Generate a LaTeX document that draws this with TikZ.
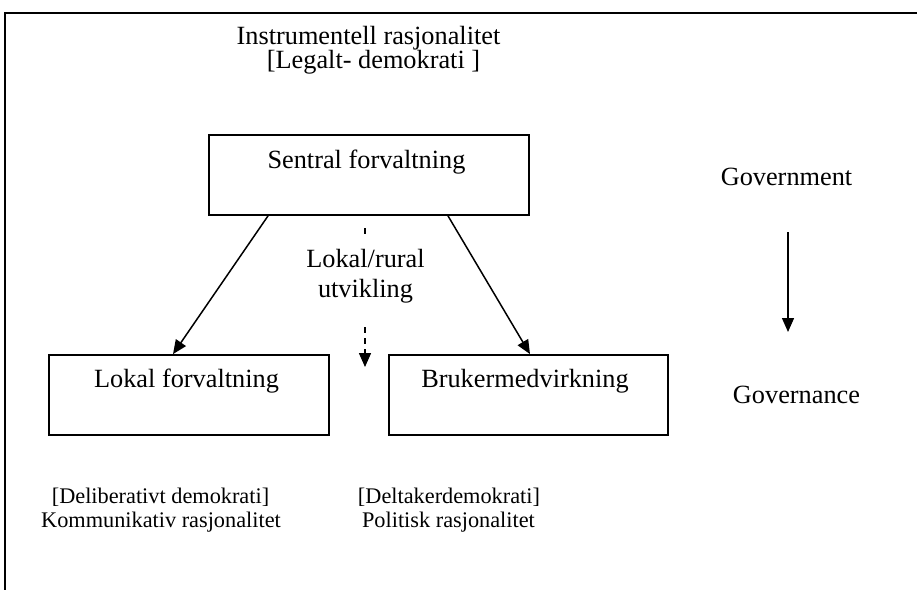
\documentclass[tikz,border=0pt]{standalone}
\usepackage{fontspec}
\setmainfont{Liberation Serif}
\usetikzlibrary{arrows.meta}
\tikzset{
  boxnode/.style={draw, line width=1.8pt, minimum width=#1, minimum height=80pt, inner sep=0pt},
  bigtxt/.style={anchor=base, inner sep=0pt, font=\fontsize{26.3}{30}\selectfont},
  smalltxt/.style={anchor=base, inner sep=0pt, font=\fontsize{22.3}{26}\selectfont},
  arr/.style={line width=1.5pt, -{Triangle[length=14pt,width=12pt]}},
  dasharr/.style={line width=1.5pt, dash pattern=on 6pt off 5pt, -{Triangle[length=14pt,width=12pt]}},
  frame/.style={line width=2pt}
}
\begin{document}
\begin{tikzpicture}[x=1pt,y=-1pt]
\useasboundingbox (0,0) rectangle (917,590);
% frame
\coordinate (fr1) at (917,13);
\coordinate (fr2) at (5,13);
\coordinate (fr3) at (5,590);
\draw[frame] (fr1) -- (fr2) -- (fr3);
% top text
\node[bigtxt] (top1) at (368.5,44) {Instrumentell rasjonalitet};
\node[bigtxt] (top2) at (373.5,68.5) {[Legalt- demokrati ]};
% boxes
\node[boxnode=320pt] (sentral) at (369,175) {};
\node[bigtxt] (sentralT) at (366.5,168) {Sentral forvaltning};
\node[boxnode=280pt] (lokal) at (189,395) {};
\node[bigtxt] (lokalT) at (186.5,387) {Lokal forvaltning};
\node[boxnode=279pt] (bruker) at (528.5,395) {};
\node[bigtxt] (brukerT) at (525,387) {Brukermedvirkning};
% arrows
\draw[arr] ([xshift=-101pt]sentral.south) -- ([xshift=-16pt]lokal.north);
\draw[arr] ([xshift=79pt]sentral.south) -- ([xshift=1.5pt]bruker.north);
% dashed arrow with text
\coordinate (dtop) at (365,228);
\coordinate (dbot) at (365,367);
\draw[dasharr] (dtop) -- (dbot);
\fill[white] (305,236) rectangle (428,326);
\node[bigtxt] (lr1) at (365.5,267) {Lokal/rural};
\node[bigtxt] (lr2) at (365.5,297) {utvikling};
% government -> governance
\node[bigtxt] (gov) at (786.5,185) {Government};
\node[bigtxt] (gova) at (796.5,403) {Governance};
\coordinate (g1) at (788,232);
\coordinate (g2) at (788,332);
\draw[arr, line width=1.3pt] (g1) -- (g2);
% bottom texts
\node[smalltxt] (b1) at (160.5,503) {[Deliberativt demokrati]};
\node[smalltxt] (b2) at (161,527) {Kommunikativ rasjonalitet};
\node[smalltxt] (b3) at (449,503) {[Deltakerdemokrati]};
\node[smalltxt] (b4) at (448.5,527) {Politisk rasjonalitet};
\end{tikzpicture}
\end{document}
